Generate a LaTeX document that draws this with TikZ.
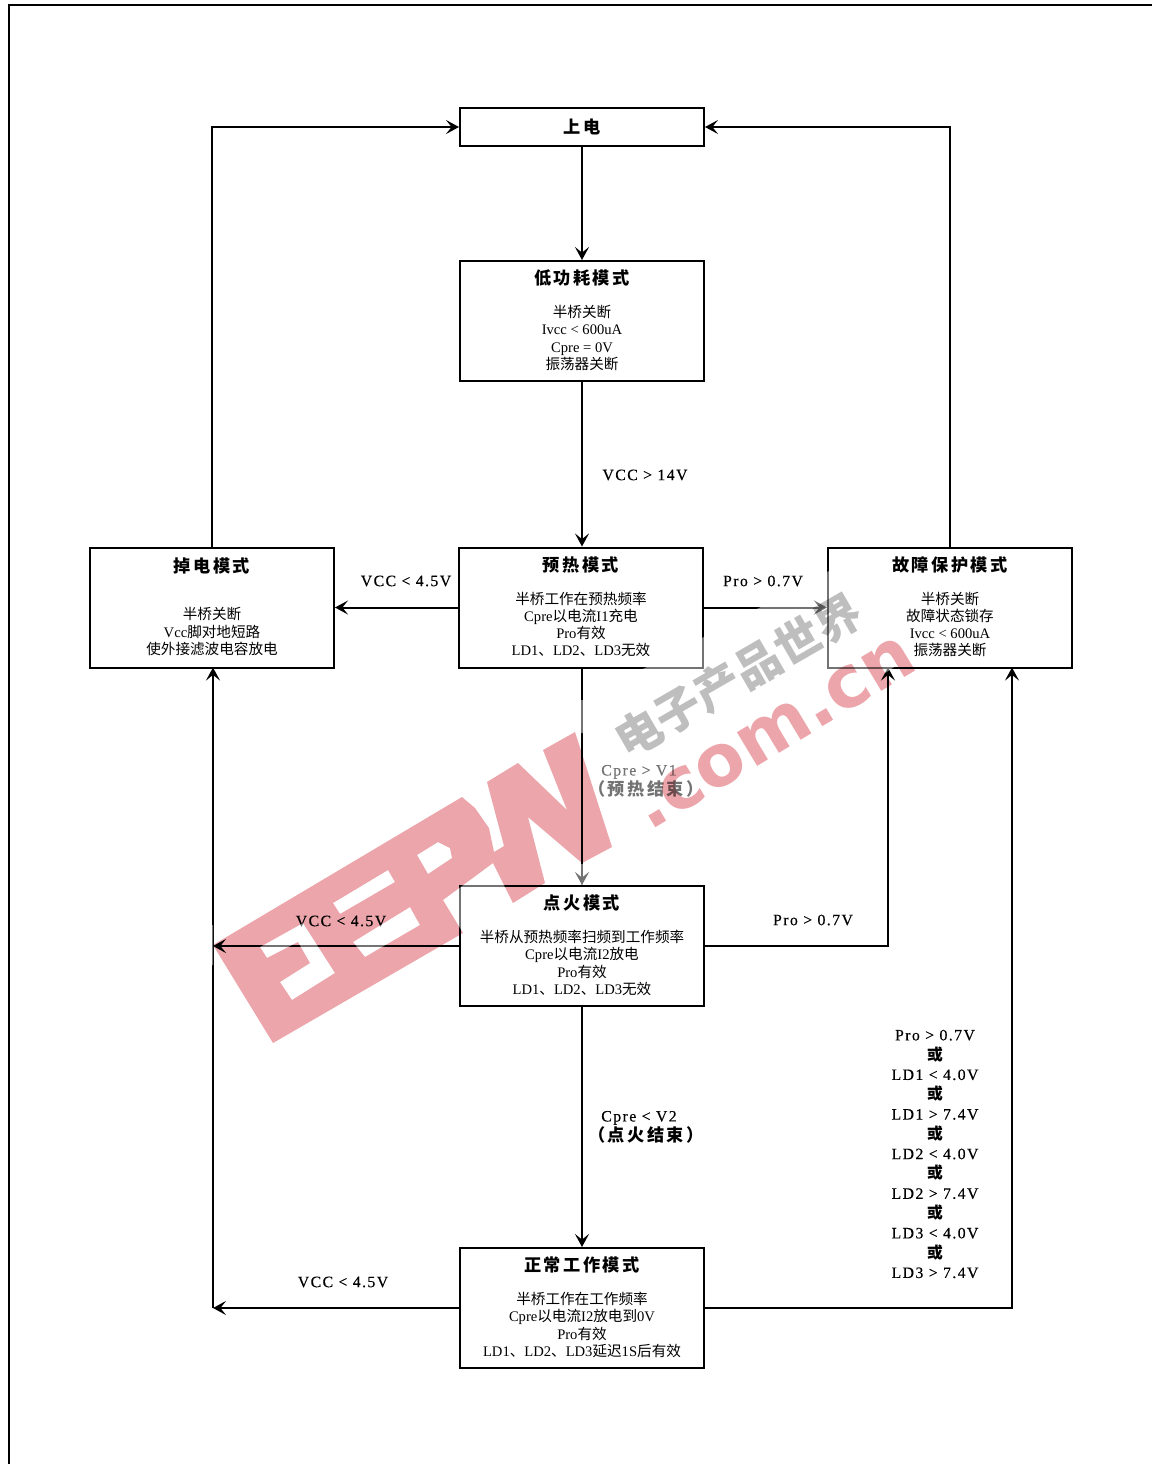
\documentclass[tikz,border=0pt]{standalone}
\usepackage{fontspec}
\setmainfont{Liberation Serif}
\newfontfamily\zhfont{Noto Sans CJK SC}
\newfontfamily\zhtitle[LetterSpace=14]{Noto Sans CJK SC}
\newfontfamily\labelfont[LetterSpace=9,FakeBold=0.3]{Liberation Serif}
\newfontfamily\logofont{DejaVu Sans}
\newfontfamily\markfont{Noto Sans CJK SC}
\usetikzlibrary{arrows.meta}
\newcommand{\zh}[1]{{\zhfont #1}}
\newcommand{\modetitle}[1]{{\zhtitle\bfseries\fontsize{8.6}{8.6}\selectfont #1}}
\newcommand{\condzh}[1]{{\zhtitle\bfseries\fontsize{8.6}{9.9}\selectfont #1}}
\newcommand{\orword}{{\zhfont\bfseries 或}}
\definecolor{wmpink}{RGB}{236,165,170}
\definecolor{wmgray}{RGB}{190,190,190}
\tikzset{
    modebox/.style={rectangle, draw=black, line width=1pt, minimum width=122pt, minimum height=60pt, inner sep=0pt, align=center, text depth=1.5pt, font=\fontsize{7.3}{8.6}\selectfont},
    arrow/.style={line width=1pt,-{Stealth[length=6.5pt,width=7pt,inset=2.8pt]},black},
    plainline/.style={line width=1pt,black},
    condition/.style={align=center, inner sep=0pt, font=\labelfont\fontsize{7.9}{9.9}\selectfont}
}
\begin{document}
\begin{tikzpicture}[x=0.5pt,y=-0.5pt]
    \useasboundingbox (0,0) rectangle (1152,1464);

    % Outer frame, open at right and bottom
    \coordinate (frameA) at (9,1464);
    \coordinate (frameB) at (9,5);
    \coordinate (frameC) at (1152,5);
    \draw[plainline] (frameA) -- (frameB) -- (frameC);

    % Mode boxes
    \node[modebox, minimum height=19pt, text depth=1pt] (powerup) at (582,127) {\modetitle{上电}};

    \node[modebox] (lowpower) at (582,321) {
        \modetitle{低功耗模式}\\[8pt]
        \zh{半桥关断}\\
        Ivcc < 600uA\\
        Cpre = 0V\\
        \zh{振荡器关断}
    };

    \node[modebox] (preheat) at (581,607.5) {
        \modetitle{预热模式}\\[8pt]
        \zh{半桥工作在预热频率}\\
        Cpre\zh{以电流}I1\zh{充电}\\
        Pro\zh{有效}\\
        LD1\zh{、}LD2\zh{、}LD3\zh{无效}
    };

    \node[modebox] (powerdown) at (212,607.5) {
        \modetitle{掉电模式}\\[15pt]
        \zh{半桥关断}\\
        Vcc\zh{脚对地短路}\\
        \zh{使外接滤波电容放电}
    };

    \node[modebox] (fault) at (950,607.5) {
        \modetitle{故障保护模式}\\[8pt]
        \zh{半桥关断}\\
        \zh{故障状态锁存}\\
        Ivcc < 600uA\\
        \zh{振荡器关断}
    };

    \node[modebox] (ignite) at (582,946) {
        \modetitle{点火模式}\\[8pt]
        \zh{半桥从预热频率扫频到工作频率}\\
        Cpre\zh{以电流}I2\zh{放电}\\
        Pro\zh{有效}\\
        LD1\zh{、}LD2\zh{、}LD3\zh{无效}
    };

    \node[modebox] (normal) at (582,1308) {
        \modetitle{正常工作模式}\\[8pt]
        \zh{半桥工作在工作频率}\\
        Cpre\zh{以电流}I2\zh{放电到}0V\\
        Pro\zh{有效}\\
        LD1\zh{、}LD2\zh{、}LD3\zh{延迟}1S\zh{后有效}
    };

    % Free ends of the connectors
    \coordinate (downIn) at (213,667.5);
    \coordinate (downMid) at (213,946);
    \coordinate (downLow) at (213,1308);
    \coordinate (faultInA) at (888,667.5);
    \coordinate (faultInB) at (1012,667.5);

    % Connectors
    \draw[arrow] (powerup.south) -- (lowpower.north);
    \draw[arrow] (lowpower.south) -- (lowpower.south |- preheat.north);
    \draw[arrow] (preheat.west) -- (powerdown.east);
    \draw[arrow] (preheat.east) -- (fault.west);
    \draw[arrow] (ignite.north |- preheat.south) -- (ignite.north);
    \draw[arrow] (ignite.south) -- (normal.north);
    \draw[arrow] (ignite.west) -- (downMid);
    \draw[arrow] (normal.west) -- (downLow);
    \draw[arrow] (downLow) -- (downIn);
    \draw[arrow] (ignite.east) -| (faultInA);
    \draw[arrow] (normal.east) -| (faultInB);
    \draw[arrow] (powerdown.north) |- (powerup.west);
    \draw[arrow] (fault.north) |- (powerup.east);

    % Conditions
    \node[condition] (cond14) at (645,475) {VCC > 14V};
    \node[condition] (condDownA) at (406,581) {VCC < 4.5V};
    \node[condition] (condProA) at (763,581) {Pro > 0.7V};
    \node[condition] (condV1) at (646,781) {Cpre > V1\hspace*{7pt}\\\condzh{（预热结束）}};
    \node[condition] (condDownB) at (341,921) {VCC < 4.5V};
    \node[condition] (condProB) at (813,920) {Pro > 0.7V};
    \node[condition] (condV2) at (646,1127) {Cpre < V2\hspace*{7pt}\\\condzh{（点火结束）}};
    \node[condition] (condDownC) at (343,1282) {VCC < 4.5V};
    \node[condition] (condList) at (935,1154) {
        Pro > 0.7V\\ \orword\\
        LD1 < 4.0V\\ \orword\\
        LD1 > 7.4V\\ \orword\\
        LD2 < 4.0V\\ \orword\\
        LD2 > 7.4V\\ \orword\\
        LD3 < 4.0V\\ \orword\\
        LD3 > 7.4V
    };

    % Watermark: pale veil first, then the marks multiplied over the drawing
    \fill[white, opacity=0.45]
        (584,700) -- (850,560) -- (905,660) -- (690,800) -- (584,860) -- cycle
        (576,700) rectangle (584,733)
        (568,864) rectangle (596,884)
        (260,947) -- (303,923) -- (335,973) -- (292,1000) -- (280,982) -- (310,963) -- (298,942) -- (267,958) -- cycle
        (333,903) -- (388,870) -- (395,882) -- (340,914) -- cycle
        (353,942) -- (410,907) -- (420,925) -- (365,957) -- cycle
        (443,900) -- (493,863) -- (513,903) -- (463,933) -- cycle
        (203,925) rectangle (213,965);
    \begin{scope}[blend mode=multiply]
        \fill[wmpink, even odd rule]
            (213,945) -- (462,797) -- (475,808) -- (489,828) -- (494,852) -- (504,846) -- (487,782)
            -- (518,763) -- (567,810) -- (543,750) -- (575,732) -- (612,847) -- (582,863) -- (528,817)
            -- (545,883) -- (513,903) -- (493,863) -- (443,900) -- (463,933) -- (273,1043) -- cycle
            (260,947) -- (303,923) -- (335,973) -- (292,1000) -- (280,982) -- (310,963) -- (298,942) -- (267,958) -- cycle
            (333,903) -- (388,870) -- (395,882) -- (340,914) -- cycle
            (353,942) -- (410,907) -- (420,925) -- (365,957) -- cycle
            (417,855) -- (438,842) -- (450,848) -- (452,858) -- (428,874) -- cycle;
        \node[inner sep=0pt, text=wmpink, font=\logofont\bfseries\fontsize{36}{36}\selectfont, rotate=31, transform shape] (siteMark) at (775,733) {.com.cn};
        \node[inner sep=0pt, text=wmgray, font=\markfont\bfseries\fontsize{23}{23}\selectfont, rotate=30, transform shape] (nameMark) at (738,676) {电子产品世界};
    \end{scope}
\end{tikzpicture}
\end{document}
